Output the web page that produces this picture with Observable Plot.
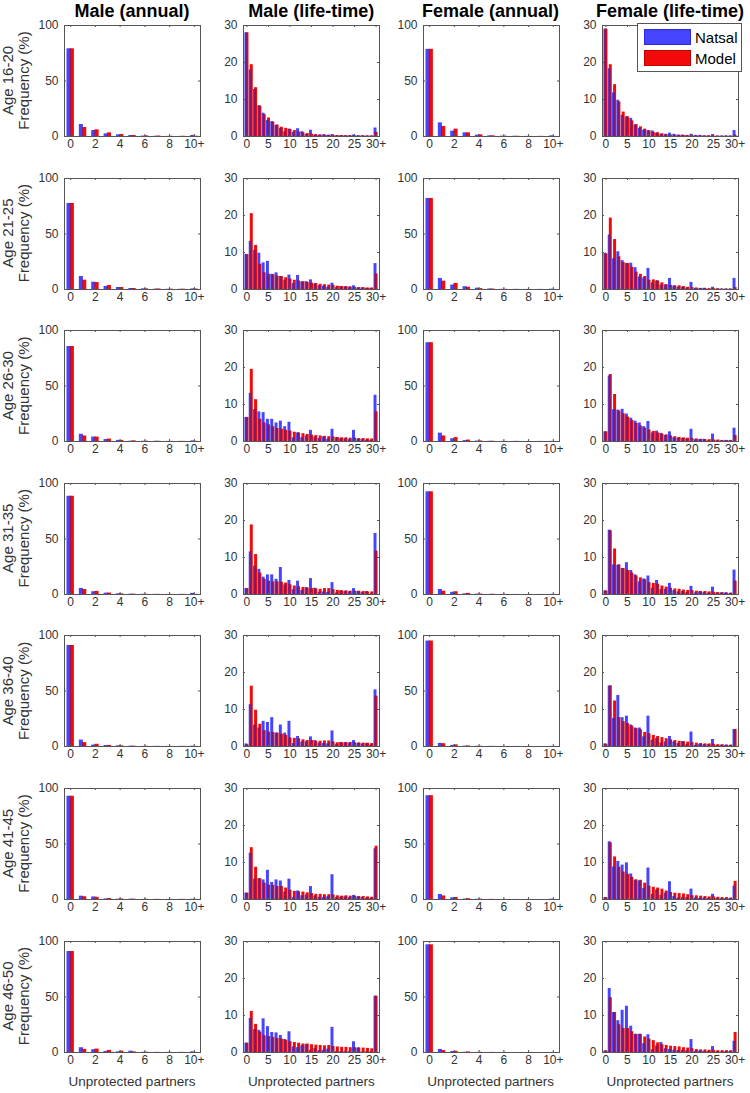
<!DOCTYPE html>
<html><head><meta charset="utf-8">
<script src="https://cdn.jsdelivr.net/npm/d3@7"></script>
<script src="https://cdn.jsdelivr.net/npm/@observablehq/plot@0.6"></script>
<style>
body{margin:0;background:#fff;}
#fig{position:relative;width:750px;height:1093px;overflow:hidden;font-family:"Liberation Sans",Arial,Helvetica,sans-serif;}
#fig svg.panel{position:absolute;}
#overlay{position:absolute;left:0;top:0;pointer-events:none;}
</style></head>
<body><div id="fig"></div>
<script>
// ---------- categories / labels ----------
const annualCats = ["0","1","2","3","4","5","6","7","8","9","10+"];
const lifeCats = ["0","1","2","3","4","5","6","7","8","9","10","11","12","13","14","15","16","17","18","19","20","21","22","23","24","25","26","27","28","29","30+"];
const annualTicks = [0,2,4,6,8,10];
const lifeTicks = [0,5,10,15,20,25,30];
const annualYTicks = [0,50,100];
const lifeYTicks = [0,10,20,30];
const ageGroups = ["16-20","21-25","26-30","31-35","36-40","41-45","46-50"];
const panelTitles = ["Male (annual)","Male (life-time)","Female (annual)","Female (life-time)"];
const seriesNames = ["Natsal","Model"];
const xLabel = "Unprotected partners";
const yLabel = "Frequency (%)";

// ---------- values (%), one row per age group ----------
const maleAnnualNatsal = [
 [79,10.8,5.4,2.4,1.5,0.9,0.4,0.2,0.1,0.1,0.9],
 [77.5,11.7,6.6,2.7,1.8,0.9,0.6,0.3,0.2,0.2,0.5],
 [85.6,6.5,4.0,1.8,1.0,0.3,0.2,0.2,0.1,0.1,0.5],
 [88.5,5.5,2.5,1.2,0.6,0.3,0.2,0.1,0.1,0.1,1.0],
 [91,5.8,1.3,0.9,0.6,0.3,0.1,0.1,0.1,0.1,0.3],
 [93,3.0,2.3,0.5,0.3,0.3,0.1,0.1,0.1,0.1,0.2],
 [91,4.3,2.5,1.0,0.6,1.2,0.2,0.1,0.1,0.1,0.6]];
const maleAnnualModel = [
 [79,8.1,6.0,3.3,1.8,0.9,0.6,0.4,0.2,0.2,0.3],
 [77.5,8.4,6.3,3.6,1.8,0.9,0.6,0.5,0.3,0.3,0.5],
 [85.6,5.0,4.0,2.2,1.0,0.6,0.3,0.2,0.1,0.1,0.2],
 [88.5,4.5,2.8,1.3,0.6,0.3,0.2,0.1,0.1,0.1,0.2],
 [91,3.5,2.0,1.0,0.6,0.3,0.2,0.1,0.1,0.1,0.1],
 [93,2.5,2.0,0.9,0.5,0.3,0.2,0.1,0.1,0.1,0.1],
 [91,2.8,3.1,1.9,1.2,0.6,0.3,0.1,0.1,0.1,0.1]];
const femaleAnnualNatsal = [
 [78.5,12.3,4.8,3.3,1.2,0.6,0.3,0.2,0.1,0.1,0.6],
 [82,10,4,2.5,1.2,0.5,0.2,0.1,0.1,0.1,0.3],
 [89,7.5,2.5,0.8,0.4,0.2,0.1,0.1,0.05,0.05,0.1],
 [92.5,4.5,2.0,0.6,0.3,0.1,0.1,0.05,0.05,0.05,0.1],
 [95,2.8,1.0,0.3,0.2,0.1,0.05,0.05,0.05,0.05,0.1],
 [93.5,4.5,1.5,0.4,0.2,0.1,0.05,0.05,0.05,0.05,0.3],
 [97,2.7,0.9,0.2,0.1,0.05,0.05,0,0,0,0.05]];
const femaleAnnualModel = [
 [78.5,9.0,6.6,3.3,1.5,0.6,0.3,0.2,0.1,0.1,0.1],
 [82,7.5,5.5,2.0,0.8,0.4,0.2,0.1,0.1,0.05,0.05],
 [89,5,3.5,1.3,0.5,0.2,0.1,0.1,0.05,0.05,0.05],
 [92.5,3.0,2.5,1.0,0.4,0.2,0.1,0.05,0.05,0.05,0.05],
 [95,2.5,1.5,0.5,0.2,0.1,0.05,0.05,0,0,0],
 [93.5,3.2,1.8,0.8,0.3,0.1,0.05,0.05,0,0,0],
 [97,1.8,1.1,0.5,0.2,0.1,0.05,0,0,0,0]];
const maleLifeNatsal = [
 [28,18,12.7,8.3,6.3,4.3,4.0,3.0,2.2,1.3,2.0,1.1,2.1,1.3,0.5,1.7,0.4,0.3,0.4,0.3,0.5,0.2,0.2,0.2,0.2,0.4,0.2,0.2,0.1,0.1,2.3],
 [9.5,13,10.6,9.8,7.2,7.6,4.1,4.5,3.5,2.5,3.9,1.6,3.8,2.0,2.1,2.6,1.5,1.0,0.9,0.6,1.7,0.5,0.8,0.7,0.6,1.0,0.4,0.4,0.3,0.3,7.0],
 [6.5,13,8.6,8.0,7.8,6.0,6.0,5.0,5.5,4.0,5.2,1.0,2.3,1.0,1.5,3.0,1.2,0.8,1.2,0.6,3.3,1.0,0.8,0.7,0.5,3.0,0.6,0.5,0.4,0.3,12.5],
 [1.6,11.5,7.7,6.8,4.7,5.3,5.3,4.1,7.3,2.6,3.8,1.3,3.6,1.1,1.9,4.3,1.7,0.6,0.7,0.6,3.2,0.4,1.0,0.8,0.7,1.6,0.8,0.5,0.8,0.1,16.5],
 [0.7,11.3,5.8,5.0,6.8,6.5,7.8,3.6,5.8,3.6,6.8,0.8,2.7,1.2,1.3,2.6,1.6,0.9,0.8,0.7,4.2,0.6,1.1,1.0,0.9,1.6,0.8,0.7,0.8,0.4,15.3],
 [1.7,12.5,5.5,5.6,5.3,7.9,4.6,5.3,5.0,2.0,5.5,0.5,2.3,1.0,1.2,3.5,0.9,0.6,0.6,0.7,6.7,0.5,0.6,0.7,0.5,1.1,0.7,0.5,0.4,0.3,13.7],
 [2.5,9.2,6.2,6.0,9.1,7.0,5.4,5.3,4.6,3.5,5.6,1.5,1.3,1.8,2.1,0.6,1.1,0.5,0.6,0.9,6.8,0.3,0.2,0.2,0.2,2.9,1.2,0.1,0.2,0.2,15.2]];
const maleLifeModel = [
 [28,19.4,13.2,8.2,5.9,5.0,3.9,3.1,2.5,2.2,1.9,1.6,1.2,1.0,0.8,0.6,0.5,0.45,0.4,0.35,0.3,0.25,0.25,0.2,0.2,0.2,0.15,0.15,0.15,0.15,1.1],
 [9.4,20.5,11.9,6.8,4.5,4.1,4.0,3.6,3.5,3.2,2.8,2.5,2.3,2.1,1.9,1.7,1.6,1.4,1.3,1.2,1.1,0.9,0.8,0.8,0.7,0.6,0.5,0.5,0.4,0.4,4.2],
 [6.5,19.5,11.3,6.0,5.0,4.5,4.0,3.5,3.3,3.0,2.8,2.5,2.3,2.1,1.9,1.7,1.6,1.5,1.4,1.3,1.2,1.1,1.0,1.0,0.9,0.9,0.8,0.8,0.7,0.7,8.0],
 [1.6,18.8,10.8,5.8,4.1,3.6,3.4,3.4,3.3,3.1,2.6,2.3,2.1,1.9,1.7,1.6,1.5,1.4,1.6,1.6,1.3,1.1,1.0,1.0,0.9,0.9,0.9,0.8,0.7,0.7,11.7],
 [0.5,16.3,9.8,6.0,4.3,3.9,3.8,3.6,3.3,3.0,2.3,2.2,2.1,1.8,1.6,1.6,1.4,1.4,1.5,1.5,1.2,1.0,1.0,1.1,1.1,1.0,1.0,0.9,0.9,0.8,13.6],
 [1.7,14.0,8.7,5.6,4.4,3.9,3.8,3.5,3.5,3.1,2.5,2.2,2.1,2.0,1.8,1.6,1.4,1.4,1.3,1.3,1.2,1.0,0.9,1.0,0.9,0.9,0.8,0.8,0.7,0.6,14.4],
 [2.5,11.1,7.6,5.5,4.5,4.3,4.1,3.8,3.6,3.3,2.9,2.7,2.5,2.3,2.3,2.1,2.0,1.9,1.8,1.9,1.6,1.5,1.4,1.4,1.3,1.3,1.2,1.2,1.1,1.0,15.2]];
const femaleLifeNatsal = [
 [29,18.3,11.8,9.8,5.7,5.3,4.9,3.1,2.2,1.7,1.6,1.5,0.9,0.6,0.6,0.9,0.6,0.4,0.4,0.3,0.6,0.3,0.3,0.2,0.2,0.5,0.1,0.1,0.1,0.1,1.6],
 [9.8,14.7,8.3,10.2,7.8,7.0,7.1,5.9,3.4,3.1,5.7,1.8,2.3,1.2,1.2,3.0,0.9,0.6,0.6,0.4,1.9,0.3,0.2,0.3,0.1,0.6,0.1,0.1,0.1,0.1,3.0],
 [2.6,17.7,8.6,8.5,8.7,7.4,6.3,5.5,5.0,4.0,5.4,2.3,2.8,2.2,1.6,2.6,1.0,0.9,0.8,0.7,3.3,0.5,0.5,0.6,0.2,2.0,0.2,0.2,0.2,0.2,3.6],
 [1.0,17.4,8.0,7.9,7.0,8.6,6.5,5.3,3.4,4.2,5.0,1.7,3.8,1.3,1.4,3.0,1.0,0.7,0.8,0.5,2.2,0.4,0.7,0.5,0.4,2.0,0.4,0.4,0.4,0.2,6.6],
 [0.7,16.3,7.6,13.8,7.8,8.2,5.8,5.0,5.0,2.6,8.2,1.7,2.2,0.9,1.2,2.7,1.2,0.8,1.3,0.5,3.9,0.3,0.6,0.5,0.5,1.9,0.2,0.3,0.3,0.2,4.6],
 [0.5,15.6,8.8,10.3,9.3,9.9,6.9,5.2,5.0,3.0,8.5,1.4,2.6,1.1,1.7,4.8,0.8,0.4,0.5,0.5,2.8,0.4,0.3,0.4,0.3,1.4,0.3,0.2,0.2,0.2,3.6],
 [0.4,17.3,10.8,8.6,11.4,12.5,7.1,4.9,4.9,2.4,4.8,0.7,1.8,2.7,1.0,0.8,0.6,0.5,0.6,0.5,3.5,0.3,0.4,0.3,0.3,1.6,0.2,0.1,0.2,0.2,3.0]];
const femaleLifeModel = [
 [29,19.4,14,9.3,6.6,5.3,4.2,3.2,2.6,2.0,1.5,1.1,1.0,0.7,0.5,0.4,0.35,0.3,0.25,0.2,0.2,0.15,0.15,0.1,0.1,0.1,0.1,0.1,0.1,0.1,0.3],
 [9.6,19.3,13.5,8.8,7.3,7.0,6.0,4.7,4.1,3.5,2.5,2.6,2.3,1.8,1.3,1.1,1.0,1.0,0.8,0.6,0.5,0.4,0.3,0.3,0.2,0.2,0.2,0.1,0.1,0.1,0.5],
 [2.6,18.1,12.7,8.2,7.5,6.6,5.7,4.9,4.2,3.6,3.1,2.7,2.3,2.0,1.8,1.5,1.3,1.1,1.0,0.9,0.8,0.7,0.6,0.5,0.5,0.4,0.4,0.3,0.3,0.3,1.6],
 [0.9,17.2,12.3,8.0,7.0,6.5,5.8,5.0,4.5,4.0,3.2,3.0,2.8,2.3,2.0,1.7,1.5,1.4,1.2,1.1,1.0,0.9,0.8,0.8,0.7,0.6,0.5,0.5,0.4,0.4,3.6],
 [0.6,16.4,12.3,7.8,6.7,6.2,5.5,4.8,4.5,3.8,3.4,3.0,2.7,2.4,2.1,1.8,1.6,1.4,1.3,1.2,1.0,0.9,0.8,0.7,0.7,0.6,0.5,0.5,0.4,0.4,4.6],
 [0.5,15.3,11.5,8.7,7.4,6.8,6.0,5.3,5.2,4.4,3.6,3.3,3.1,2.8,2.3,1.9,1.7,1.6,1.5,1.3,1.0,1.0,0.9,0.8,0.7,0.7,0.6,0.5,0.5,0.4,4.9],
 [0.4,14.8,10.8,7.5,6.5,6.5,5.6,4.9,4.9,4.2,3.6,3.2,2.6,2.1,1.9,1.7,1.6,1.5,1.3,1.2,1.0,0.8,0.7,0.7,0.6,0.6,0.5,0.5,0.5,0.5,5.4]];

// ---------- layout ----------
const FONT = '"Liberation Sans", Arial, Helvetica, sans-serif';
const PW = 136, PH = 111;
const colLeft = [64, 243.3, 422.6, 602];
const rowTop = ageGroups.map((_, k) => 25 + k * 152.6);
const ML = 40, MR = 16, MT = 4, MB = 22;
const BLUE = "#4545ff", RED = "#f00a0a", OVERLAP = "#7d1a6e", AXIS = "#555";

const columns = [
  {cats: annualCats, ticks: annualTicks, yTicks: annualYTicks, yMax: 100, natsal: maleAnnualNatsal, model: maleAnnualModel, domain: [-0.5, 10.5], bw: 0.30, ov: 0.03},
  {cats: lifeCats, ticks: lifeTicks, yTicks: lifeYTicks, yMax: 30, natsal: maleLifeNatsal, model: maleLifeModel, domain: [-0.8, 30.8], bw: 0.47, ov: 0.22},
  {cats: annualCats, ticks: annualTicks, yTicks: annualYTicks, yMax: 100, natsal: femaleAnnualNatsal, model: femaleAnnualModel, domain: [-0.5, 10.5], bw: 0.30, ov: 0.03},
  {cats: lifeCats, ticks: lifeTicks, yTicks: lifeYTicks, yMax: 30, natsal: femaleLifeNatsal, model: femaleLifeModel, domain: [-0.8, 30.8], bw: 0.47, ov: 0.22}
];

const fig = document.getElementById("fig");

columns.forEach((spec, c) => {
  ageGroups.forEach((age, r) => {
    const data = spec.cats.map((cat, i) => ({i, cat, natsal: spec.natsal[r][i], model: spec.model[r][i]}));
    const svg = Plot.plot({
      width: PW + ML + MR, height: PH + MT + MB,
      marginLeft: ML, marginRight: MR, marginTop: MT, marginBottom: MB,
      x: {domain: spec.domain},
      y: {domain: [0, spec.yMax]},
      style: {background: "transparent", overflow: "visible", fontFamily: FONT, fontSize: "12px", color: "#333"},
      marks: [
        Plot.rect(data, {x1: d => d.i - spec.bw, x2: d => d.i + spec.ov, y1: 0, y2: "natsal", fill: BLUE}),
        Plot.rect(data, {x1: d => d.i - spec.ov, x2: d => d.i + spec.bw, y1: 0, y2: "model", fill: RED}),
        // overlapping part of the two bars (semi-transparent bars blend to purple)
        Plot.rect(data, {x1: d => d.i - spec.ov, x2: d => d.i + spec.ov, y1: 0, y2: d => Math.min(d.natsal, d.model), fill: OVERLAP}),
        Plot.frame({stroke: AXIS, strokeWidth: 1}),
        Plot.tickX(spec.ticks, {x: d => d, insetTop: PH - 2, stroke: AXIS}),
        Plot.tickX(spec.ticks, {x: d => d, insetBottom: PH - 2, stroke: AXIS}),
        Plot.tickY(spec.yTicks, {y: d => d, insetRight: PW - 2, stroke: AXIS}),
        Plot.tickY(spec.yTicks, {y: d => d, insetLeft: PW - 2, stroke: AXIS}),
        Plot.axisX(spec.ticks, {tickSize: 0, tickPadding: 3, tickFormat: d => spec.cats[d], fontSize: 12, fill: "#333"}),
        Plot.axisY(spec.yTicks, {tickSize: 0, tickPadding: 6, fontSize: 12, fill: "#333", label: null})
      ]
    });
    svg.classList.add("panel");
    svg.style.left = (colLeft[c] - ML) + "px";
    svg.style.top = (rowTop[r] - MT) + "px";
    fig.appendChild(svg);
  });
});

// ---------- overlay texts and legend ----------
const ov = d3.select(fig).append("svg").attr("id", "overlay").attr("width", 750).attr("height", 1093)
  .style("font-family", FONT);

panelTitles.forEach((t, c) => {
  ov.append("text").attr("x", colLeft[c] + PW / 2).attr("y", 17).attr("text-anchor", "middle")
    .attr("font-size", 18).attr("font-weight", "bold").attr("fill", "#000").text(t);
  ov.append("text").attr("x", colLeft[c] + PW / 2).attr("y", 1086).attr("text-anchor", "middle")
    .attr("font-size", 13.5).attr("fill", "#333").text(xLabel);
});

ageGroups.forEach((age, r) => {
  const yc = rowTop[r] + PH / 2;
  ov.append("text").attr("transform", `translate(13,${yc}) rotate(-90)`).attr("text-anchor", "middle")
    .attr("font-size", 15).attr("fill", "#333").text("Age " + age);
  ov.append("text").attr("transform", `translate(29,${yc}) rotate(-90)`).attr("text-anchor", "middle")
    .attr("font-size", 15).attr("fill", "#333").text(yLabel);
});

// legend
const lg = ov.append("g");
lg.append("rect").attr("x", 637.5).attr("y", 23.5).attr("width", 104).attr("height", 48)
  .attr("fill", "#fff").attr("stroke", "#555").attr("stroke-width", 1);
[[BLUE, "#2a2ae0", 29.5, 43], [RED, "#c00000", 50.5, 64]].forEach(([col, edge, y, base], k) => {
  lg.append("rect").attr("x", 644.5).attr("y", y).attr("width", 46).attr("height", 15)
    .attr("fill", col).attr("stroke", edge).attr("stroke-width", 1);
  lg.append("text").attr("x", 695).attr("y", base).attr("font-size", 15).attr("fill", "#000").text(seriesNames[k]);
});
</script>
</body></html>
